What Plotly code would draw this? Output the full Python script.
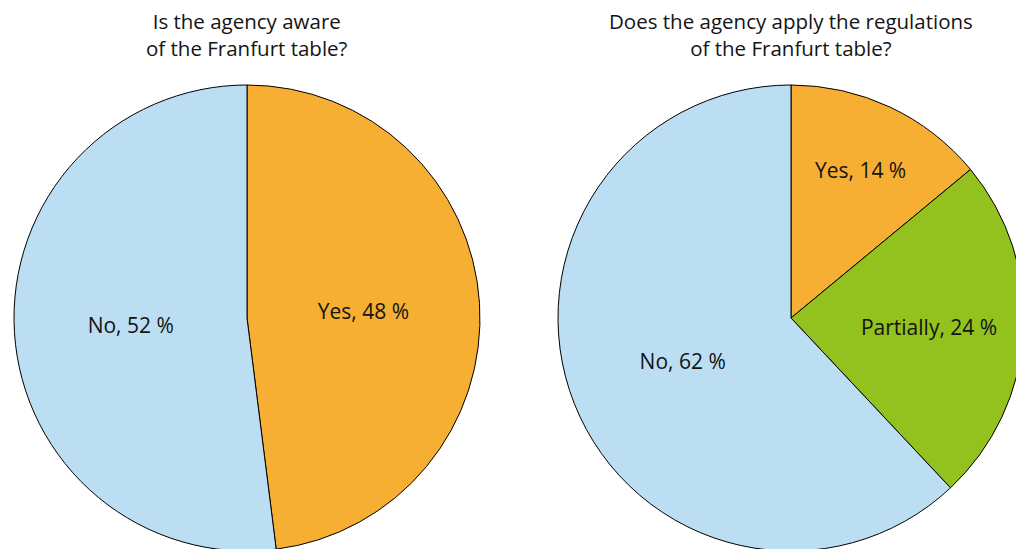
import plotly.graph_objects as go

# Data
left_title = "Is the agency aware<br>of the Franfurt table?"
left_labels = ["Yes", "No"]
left_values = [48, 52]

right_title = "Does the agency apply the regulations<br>of the Franfurt table?"
right_labels = ["Yes", "Partially", "No"]
right_values = [14, 24, 62]

ORANGE = "#F7AF33"
BLUE = "#BBDEF2"
GREEN = "#93C11E"
color_map = {"Yes": ORANGE, "No": BLUE, "Partially": GREEN}

FONT = "Open Sans, Noto Sans, sans-serif"
TXT = "#141414"

W, H = 1040, 560
R = 233
cy_top = 318  # pie centre y from top (px)


def dom_x(cx):
    return [(cx - R) / W, (cx + R) / W]


dom_y = [(H - (cy_top + R)) / H, (H - (cy_top - R)) / H]

fig = go.Figure()
for labels, values, cx in [(left_labels, left_values, 247), (right_labels, right_values, 791)]:
    fig.add_trace(go.Pie(
        labels=labels,
        values=values,
        sort=False,
        direction="clockwise",
        rotation=0,
        marker=dict(colors=[color_map[l] for l in labels], line=dict(color="#000000", width=1)),
        texttemplate="%{label}, %{value} %",
        textposition="inside",
        insidetextorientation="horizontal",
        textfont=dict(family=FONT, size=21, color=TXT),
        hoverinfo="label+value",
        showlegend=False,
        domain=dict(x=dom_x(cx), y=dom_y),
    ))

for title, cx in [(left_title, 247), (right_title, 791)]:
    fig.add_annotation(
        text=title, x=cx / W, y=1 - 5 / H, xref="paper", yref="paper",
        xanchor="center", yanchor="top", showarrow=False,
        font=dict(family=FONT, size=20.5, color=TXT), align="center",
    )

fig.update_layout(
    width=W, height=H, autosize=False,
    margin=dict(l=0, r=0, t=0, b=0),
    paper_bgcolor="white", plot_bgcolor="white",
    font=dict(family=FONT, color=TXT),
)

fig.write_html(
    "out.html",
    config={"displayModeBar": False},
    post_script="document.documentElement.style.overflow='hidden';document.body.style.margin='0';document.body.style.overflow='hidden';",
)
